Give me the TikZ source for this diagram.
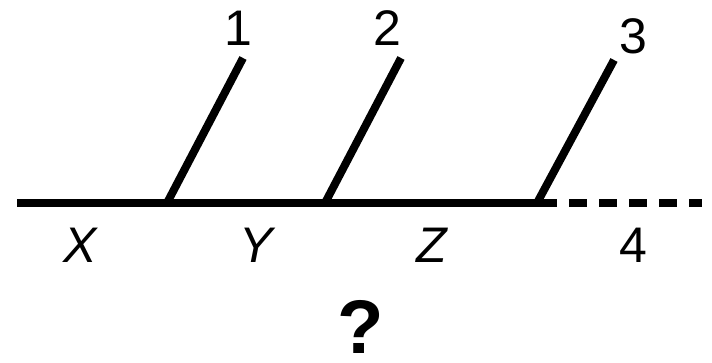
\documentclass[tikz,border=0pt]{standalone}
\usepackage{fontspec}
\setmainfont{Liberation Sans}
\begin{document}
\begin{tikzpicture}[x=1pt,y=-1pt,
  thick line/.style={line width=8pt},
  lbl/.style={inner sep=0pt,anchor=base,font=\fontsize{50}{50}\selectfont},
  vlbl/.style={lbl,font=\fontsize{50}{50}\selectfont\itshape},
  qlbl/.style={inner sep=0pt,anchor=base,font=\fontsize{76}{76}\selectfont\bfseries}]
\useasboundingbox (0,0) rectangle (712,362);
\coordinate (L) at (17,203);
\coordinate (B1) at (167,203);
\coordinate (B2) at (325,203);
\coordinate (B3) at (537,203);
\coordinate (S) at (555,203);
\coordinate (R) at (702,203);
\coordinate (T1) at (243,58);
\coordinate (T2) at (401,58);
\coordinate (T3) at (614,60);
\draw[thick line] (L) -- (S);
\draw[thick line,dash pattern=on 18pt off 12pt,dash phase=-14pt] (S) -- (R);
\draw[thick line] (B1) -- (T1);
\draw[thick line] (B2) -- (T2);
\draw[thick line] (B3) -- (T3);
\node[lbl] (n1) at (238,45) {1};
\node[lbl] (n2) at (387,45) {2};
\node[lbl] (n3) at (633,53) {3};
\node[vlbl] (x) at (80,262) {X};
\node[vlbl] (y) at (256,262) {Y};
\node[vlbl] (z) at (432,262) {Z};
\node[lbl] (n4) at (633,262) {4};
\node[qlbl] (q) at (361,353) {?};
\end{tikzpicture}
\end{document}
